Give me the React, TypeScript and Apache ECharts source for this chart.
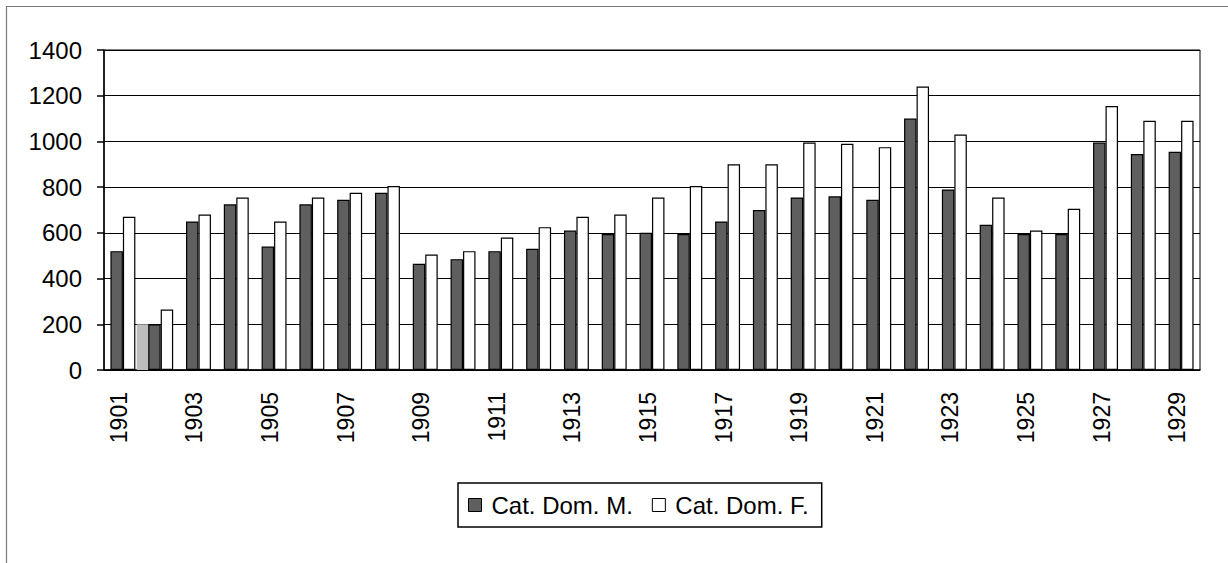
import React, { useEffect, useRef } from "react";
import * as echarts from "echarts";

const years = [
  "1901", "1902", "1903", "1904", "1905", "1906", "1907", "1908", "1909", "1910",
  "1911", "1912", "1913", "1914", "1915", "1916", "1917", "1918", "1919", "1920",
  "1921", "1922", "1923", "1924", "1925", "1926", "1927", "1928", "1929",
];
const catDomM = [
  520, 200, 650, 725, 540, 725, 745, 775, 465, 485,
  520, 530, 610, 595, 600, 595, 650, 700, 755, 760,
  745, 1100, 790, 635, 595, 595, 995, 945, 955,
];
const catDomF = [
  670, 265, 680, 755, 650, 755, 775, 805, 505, 520,
  580, 625, 670, 680, 755, 805, 900, 900, 995, 990,
  975, 1240, 1030, 755, 610, 705, 1155, 1090, 1090,
];
// stray light-grey bar drawn beside 1902 in the original
const greyExtra = [
  null, 200, null, null, null, null, null, null, null, null,
  null, null, null, null, null, null, null, null, null, null,
  null, null, null, null, null, null, null, null, null,
];
const emptyPad = years.map(() => null);

const FONT = "'Liberation Sans', Arial, sans-serif";

export default function App() {
  const ref = useRef<HTMLDivElement>(null);
  useEffect(() => {
    document.body.style.margin = "0";
    const chart = echarts.init(ref.current!, null, { renderer: "svg" });
    chart.setOption({
      animation: false,
      textStyle: { fontFamily: FONT },
      graphic: [
        {
          type: "rect",
          shape: { x: 6.5, y: 6.5, width: 1300, height: 700 },
          style: { fill: "none", stroke: "#7a7a7a", lineWidth: 1.2 },
          silent: true,
          z: -1,
        },
      ],
      grid: {
        left: 104,
        right: 28,
        top: 50,
        bottom: 193,
        show: true,
        borderColor: "#000",
        borderWidth: 1,
        backgroundColor: "transparent",
      },
      legend: {
        left: 458,
        top: 483,
        padding: [10, 13, 10, 10],
        borderColor: "#000",
        borderWidth: 1.5,
        itemWidth: 13,
        itemHeight: 13,
        itemGap: 19,
        icon: "rect",
        textStyle: { fontSize: 24, color: "#000", fontFamily: FONT, padding: [0, 0, 0, 5] },
        data: [
          { name: "Cat. Dom. M.", itemStyle: { color: "#5f5f5f", borderColor: "#000", borderWidth: 1 } },
          { name: "Cat. Dom. F.", itemStyle: { color: "#fff", borderColor: "#000", borderWidth: 1 } },
        ],
      },
      xAxis: [
        {
          type: "category",
          data: years,
          axisLine: { lineStyle: { color: "#000", width: 1.5 } },
          axisTick: { interval: 0, length: 8, lineStyle: { color: "#000", width: 1.5 } },
          axisLabel: {
            interval: 1,
            rotate: 90,
            margin: 22,
            fontSize: 23,
            color: "#000",
            fontFamily: FONT,
            verticalAlign: "bottom",
            lineHeight: 8,
          },
        },
        {
          type: "category",
          data: years,
          show: false,
        },
      ],
      yAxis: {
        type: "value",
        min: 0,
        max: 1400,
        interval: 200,
        axisLine: { show: true, lineStyle: { color: "#000", width: 1.5 } },
        axisTick: { show: true, length: 7, lineStyle: { color: "#000", width: 1.5 } },
        axisLabel: {
          fontSize: 24,
          color: "#000",
          margin: 22,
          fontFamily: FONT,
          formatter: (v: number) => String(v),
        },
        splitLine: { lineStyle: { color: "#000", width: 1.2 } },
      },
      series: [
        {
          name: "Cat. Dom. M.",
          type: "bar",
          data: catDomM,
          barGap: "0%",
          barCategoryGap: "34%",
          itemStyle: { color: "#5f5f5f", borderColor: "#000", borderWidth: 1.2 },
        },
        {
          name: "Cat. Dom. F.",
          type: "bar",
          data: catDomF,
          barGap: "0%",
          barCategoryGap: "34%",
          itemStyle: { color: "#fff", borderColor: "#000", borderWidth: 1.2 },
        },
        {
          name: "grey",
          type: "bar",
          xAxisIndex: 1,
          data: greyExtra,
          barWidth: 12,
          barGap: "200%",
          itemStyle: { color: "#bdbdbd", borderWidth: 0 },
          z: 1,
        },
        {
          name: "pad",
          type: "bar",
          xAxisIndex: 1,
          data: emptyPad,
          barWidth: 12,
          barGap: "200%",
        },
      ],
    });
    return () => chart.dispose();
  }, []);
  return <div ref={ref} style={{ width: 1228, height: 563 }} />;
}
